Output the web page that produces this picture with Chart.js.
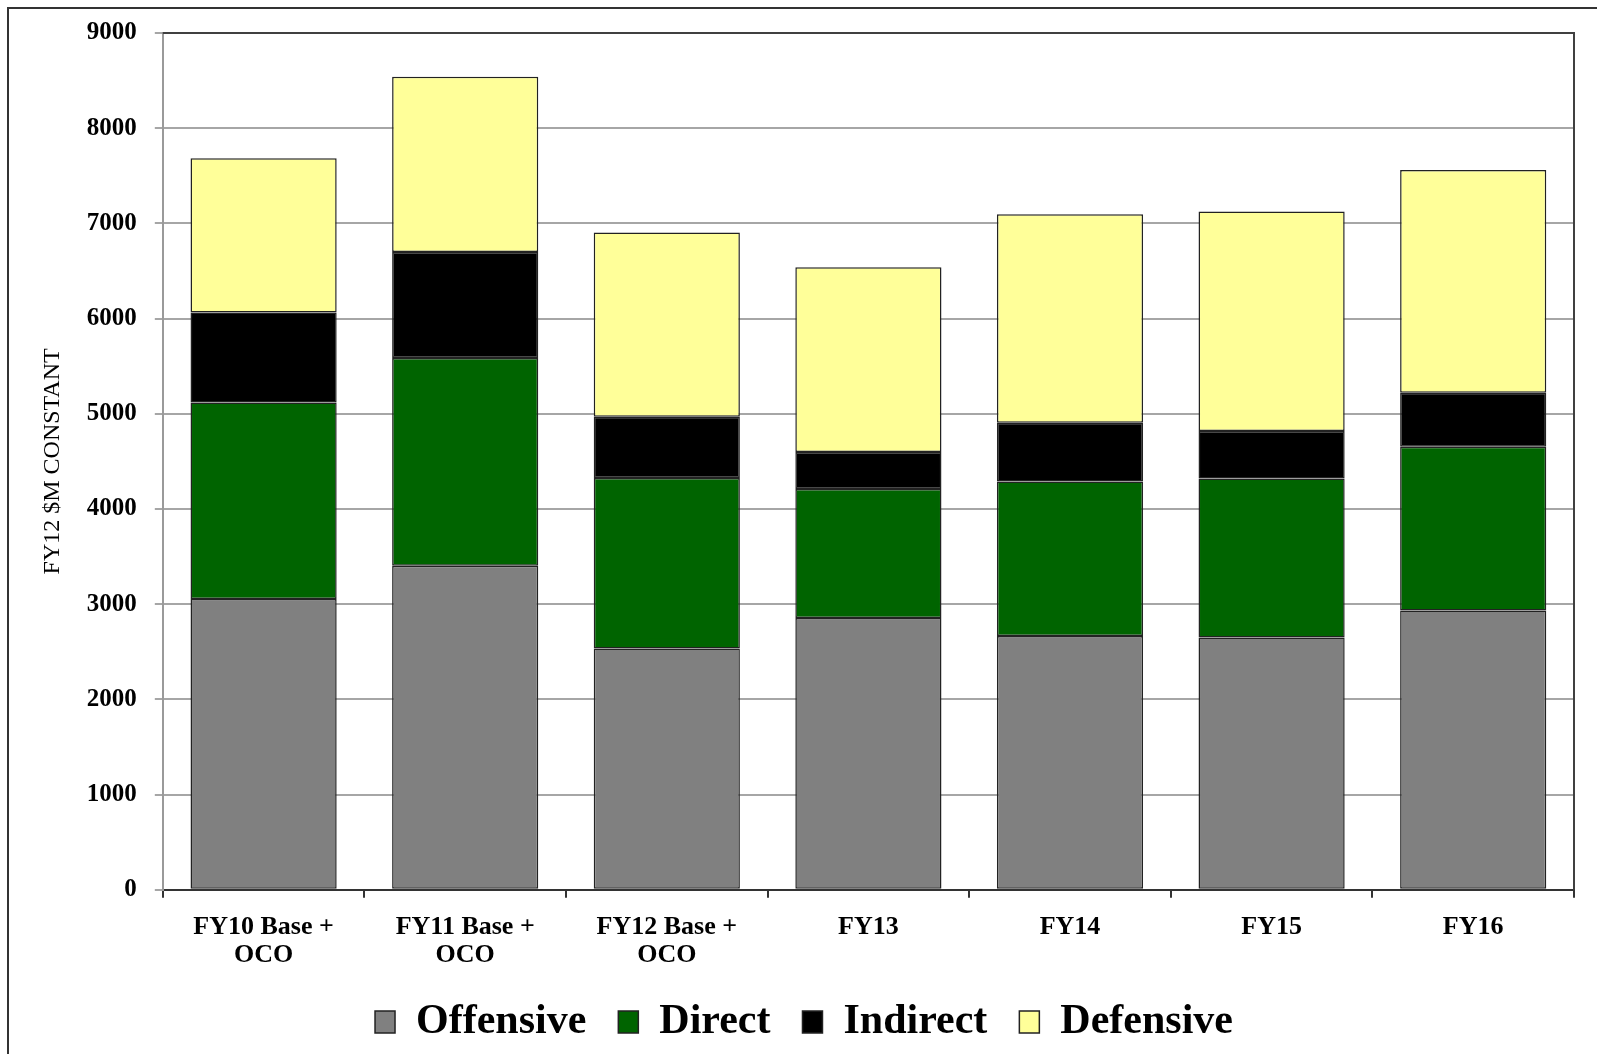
<!DOCTYPE html>
<html>
<head>
<meta charset="utf-8">
<script src="https://cdn.jsdelivr.net/npm/chart.js@4.4.0/dist/chart.umd.min.js"></script>
<style>
  html, body { margin: 0; padding: 0; background: #fff; }
  #wrap { width: 1597px; height: 1054px; }
</style>
</head>
<body>
<div id="wrap"><canvas id="spendChart" width="1597" height="1054"></canvas></div>
<script>
const categories = [["FY10 Base +", "OCO"], ["FY11 Base +", "OCO"], ["FY12 Base +", "OCO"], "FY13", "FY14", "FY15", "FY16"];
const offensive = [3055, 3405, 2535, 2855, 2665, 2650, 2935];
const direct = [2065, 2180, 1790, 1355, 1625, 1670, 1720];
const indirect = [945, 1115, 645, 390, 615, 500, 565];
const defensive = [1620, 1840, 1935, 1940, 2190, 2305, 2340];
const yTicks = [0, 1000, 2000, 3000, 4000, 5000, 6000, 7000, 8000, 9000];

const serif = "'Liberation Serif', 'Times New Roman', serif";
const ctx = document.getElementById("spendChart").getContext("2d");

// outer frame + plot border (top/right), like the original picture
const framePlugin = {
  id: "frame",
  beforeDraw(chart) {
    const c = chart.ctx;
    c.save();
    c.fillStyle = "#fff";
    c.fillRect(0, 0, chart.width, chart.height);
    c.strokeStyle = "#333";
    c.lineWidth = 2;
    c.beginPath();
    c.moveTo(8, chart.height);
    c.lineTo(8, 8);
    c.lineTo(chart.width, 8);
    c.stroke();
    c.restore();
  },
  afterDatasetsDraw(chart) {
    const a = chart.chartArea;
    const c = chart.ctx;
    c.save();
    c.strokeStyle = "#404040";
    c.lineWidth = 2;
    c.beginPath();
    c.moveTo(a.left, a.top);
    c.lineTo(a.right, a.top);
    c.lineTo(a.right, a.bottom);
    c.stroke();
    c.restore();
  }
};

function series(label, data, color) {
  return {
    label: label,
    data: data,
    backgroundColor: color,
    borderColor: "#222",
    borderWidth: 1.5,
    borderSkipped: false,
    barPercentage: 0.725,
    categoryPercentage: 1.0
  };
}

new Chart(ctx, {
  type: "bar",
  data: {
    labels: categories,
    datasets: [
      series("Offensive", offensive, "#808080"),
      series("Direct", direct, "#006400"),
      series("Indirect", indirect, "#000000"),
      series("Defensive", defensive, "#FFFF99")
    ]
  },
  options: {
    responsive: false,
    animation: false,
    layout: { padding: { left: 34, right: 23, top: 18, bottom: 1 } },
    plugins: {
      tooltip: { enabled: false },
      legend: {
        position: "bottom",
        labels: {
          font: { family: serif, size: 42, weight: "bold" },
          color: "#000",
          boxWidth: 20,
          boxHeight: 22,
          padding: 32
        }
      }
    },
    scales: {
      x: {
        stacked: true,
        afterFit(scale) { scale.height -= 15; },
        grid: { drawOnChartArea: false, drawTicks: true, tickLength: 8, color: "#333", lineWidth: 2 },
        border: { color: "#333", width: 2 },
        ticks: {
          font: { family: serif, size: 26, weight: "bold", lineHeight: 1.08 },
          color: "#000",
          padding: 15,
          maxRotation: 0
        }
      },
      y: {
        stacked: true,
        min: 0,
        max: 9000,
        afterBuildTicks(axis) { axis.ticks = yTicks.map(v => ({ value: v })); },
        grid: { color: "#a6a6a6", lineWidth: 2, tickLength: 8 },
        border: { color: "#9a9a9a", width: 2 },
        ticks: {
          font: { family: serif, size: 25, weight: "bold" },
          color: "#000",
          padding: 18,
          callback: v => String(v)
        },
        title: {
          display: true,
          text: "FY12 $M CONSTANT",
          font: { family: serif, size: 24 },
          color: "#000",
          padding: { top: 4, bottom: 2 }
        }
      }
    }
  },
  plugins: [framePlugin]
});
</script>
</body>
</html>
